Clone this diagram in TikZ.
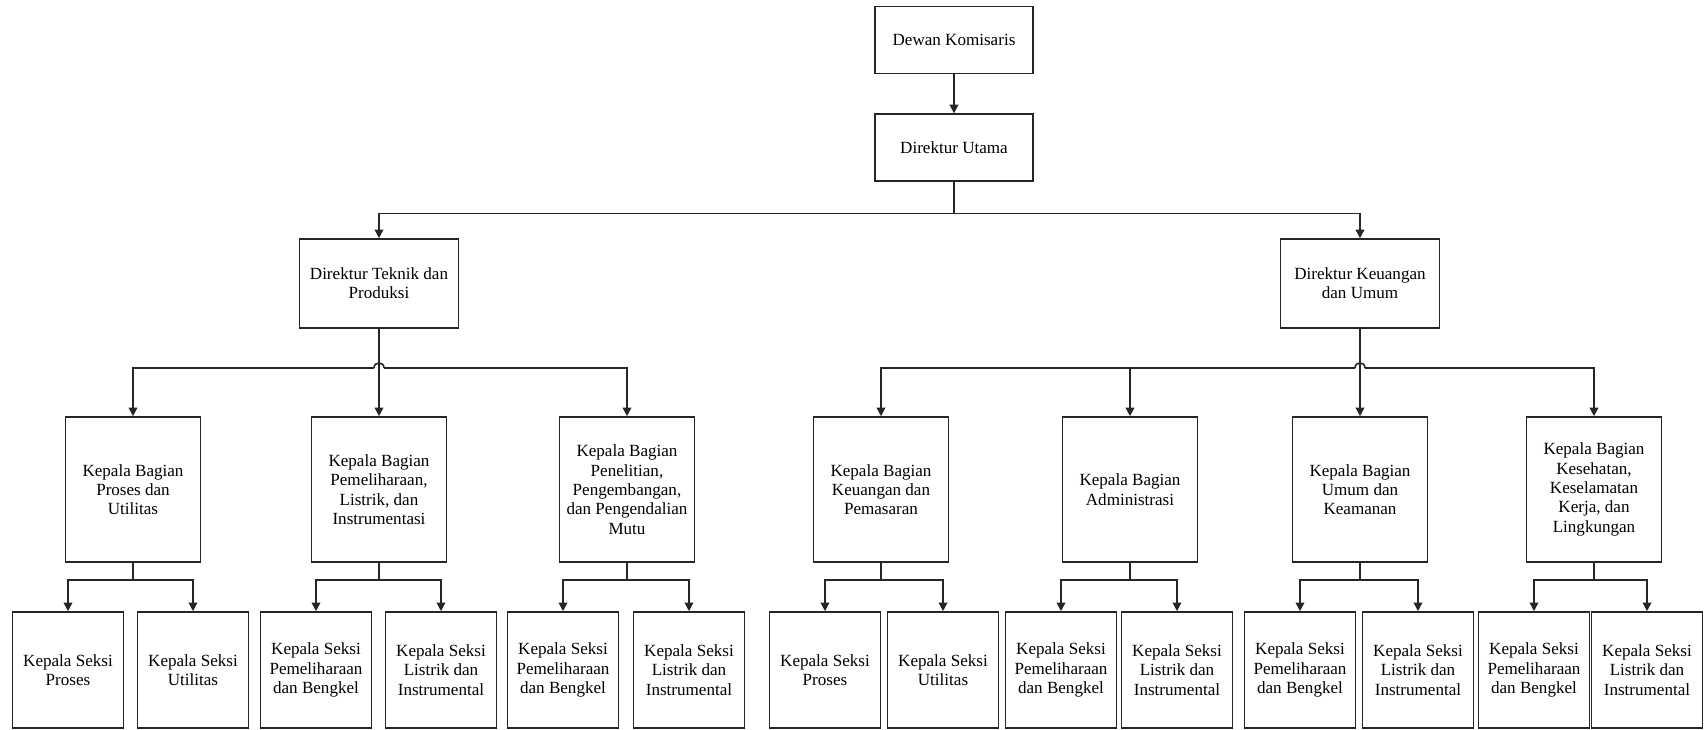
\documentclass[tikz,border=0pt]{standalone}
\usepackage{fontspec}
\setmainfont{Liberation Serif}
\usetikzlibrary{arrows.meta}

\begin{document}
\begin{tikzpicture}[x=0.75pt,y=0.75pt,yscale=-1,
  line width=1.2pt, draw=black!85,
  box/.style={draw=black!85, line width=1.2pt, align=center, inner sep=1pt,
    font=\fontsize{12.8pt}{14.5pt}\selectfont},
  topbox/.style={box, minimum width=118.5pt, minimum height=50pt},
  dirbox/.style={box, minimum width=119pt, minimum height=66.75pt},
  kbbox/.style={box, minimum width=101.25pt, minimum height=108.75pt},
  ksbox/.style={box, minimum width=83.25pt, minimum height=87pt},
  arr/.style={-{Triangle[length=6.5pt,width=6.5pt]}}]
%set diagram to 1704 x 730
\useasboundingbox (0,0) rectangle (1704,730);

%Shape: Rectangle [Dewan Komisaris, Direktur Utama]
\node [topbox] (dk) at (954,40) {Dewan Komisaris};
\node [topbox] (du) at (954,147.5) {Direktur Utama};

%Shape: Rectangle [Direktur]
\node [dirbox] (dtp) at (379,283.5) {Direktur Teknik dan\\Produksi};
\node [dirbox] (dku) at (1360,283.5) {Direktur Keuangan\\dan Umum};

%Shape: Rectangle [Kepala Bagian]
\node [kbbox] (kb1) at (133,489.5) {Kepala Bagian\\Proses dan\\Utilitas};
\node [kbbox] (kb2) at (379,489.5) {Kepala Bagian\\Pemeliharaan,\\Listrik, dan\\Instrumentasi};
\node [kbbox] (kb3) at (627,489.5) {Kepala Bagian\\Penelitian,\\Pengembangan,\\dan Pengendalian\\Mutu};
\node [kbbox] (kb4) at (881,489.5) {Kepala Bagian\\Keuangan dan\\Pemasaran};
\node [kbbox] (kb5) at (1130,489.5) {Kepala Bagian\\Administrasi};
\node [kbbox] (kb6) at (1360,489.5) {Kepala Bagian\\Umum dan\\Keamanan};
\node [kbbox] (kb7) at (1594,489.5) {Kepala Bagian\\Kesehatan,\\Keselamatan\\Kerja, dan\\Lingkungan};

%Shape: Rectangle [Kepala Seksi]
\node [ksbox] (ks1) at (68,670) {Kepala Seksi\\Proses};
\node [ksbox] (ks2) at (193,670) {Kepala Seksi\\Utilitas};
\node [ksbox] (ks3) at (316,670) {Kepala Seksi\\Pemeliharaan\\dan Bengkel};
\node [ksbox] (ks4) at (441,670) {Kepala Seksi\\Listrik dan\\Instrumental};
\node [ksbox] (ks5) at (563,670) {Kepala Seksi\\Pemeliharaan\\dan Bengkel};
\node [ksbox] (ks6) at (689,670) {Kepala Seksi\\Listrik dan\\Instrumental};
\node [ksbox] (ks7) at (825,670) {Kepala Seksi\\Proses};
\node [ksbox] (ks8) at (943,670) {Kepala Seksi\\Utilitas};
\node [ksbox] (ks9) at (1061,670) {Kepala Seksi\\Pemeliharaan\\dan Bengkel};
\node [ksbox] (ks10) at (1177,670) {Kepala Seksi\\Listrik dan\\Instrumental};
\node [ksbox] (ks11) at (1300,670) {Kepala Seksi\\Pemeliharaan\\dan Bengkel};
\node [ksbox] (ks12) at (1418,670) {Kepala Seksi\\Listrik dan\\Instrumental};
\node [ksbox] (ks13) at (1534,670) {Kepala Seksi\\Pemeliharaan\\dan Bengkel};
\node [ksbox] (ks14) at (1647,670) {Kepala Seksi\\Listrik dan\\Instrumental};

%Straight Lines [top]
\draw [arr] (dk.south) -- (du.north);
\draw (du.south) -- ++(0,32) coordinate (jtop);
\draw [arr] (jtop) -| (dtp.north);
\draw [arr] (jtop) -| (dku.north);

%Straight Lines [Direktur Teknik dan Produksi]
\coordinate (hopL1) at (374,368);
\coordinate (hopL2) at (384,368);
\draw [arr] (dtp.south) -- (kb2.north);
\draw [arr] (hopL1) -| (kb1.north);
\draw [arr] (hopL2) -| (kb3.north);
\draw (hopL1) .. controls (374,361.3) and (384,361.3) .. (hopL2);

%Straight Lines [Direktur Keuangan dan Umum]
\coordinate (hopR1) at (1355,368);
\coordinate (hopR2) at (1365,368);
\draw [arr] (dku.south) -- (kb6.north);
\draw [arr] (hopR1) -| (kb4.north);
\draw [arr] (kb5.north |- hopR1) -- (kb5.north);
\draw [arr] (hopR2) -| (kb7.north);
\draw (hopR1) .. controls (1355,361.3) and (1365,361.3) .. (hopR2);

%Straight Lines [Kepala Bagian to Kepala Seksi]
\draw (kb1.south) -- ++(0,17) coordinate (j1);
\draw [arr] (j1) -| (ks1.north);
\draw [arr] (j1) -| (ks2.north);
\draw (kb2.south) -- ++(0,17) coordinate (j2);
\draw [arr] (j2) -| (ks3.north);
\draw [arr] (j2) -| (ks4.north);
\draw (kb3.south) -- ++(0,17) coordinate (j3);
\draw [arr] (j3) -| (ks5.north);
\draw [arr] (j3) -| (ks6.north);
\draw (kb4.south) -- ++(0,17) coordinate (j4);
\draw [arr] (j4) -| (ks7.north);
\draw [arr] (j4) -| (ks8.north);
\draw (kb5.south) -- ++(0,17) coordinate (j5);
\draw [arr] (j5) -| (ks9.north);
\draw [arr] (j5) -| (ks10.north);
\draw (kb6.south) -- ++(0,17) coordinate (j6);
\draw [arr] (j6) -| (ks11.north);
\draw [arr] (j6) -| (ks12.north);
\draw (kb7.south) -- ++(0,17) coordinate (j7);
\draw [arr] (j7) -| (ks13.north);
\draw [arr] (j7) -| (ks14.north);

\end{tikzpicture}
\end{document}
